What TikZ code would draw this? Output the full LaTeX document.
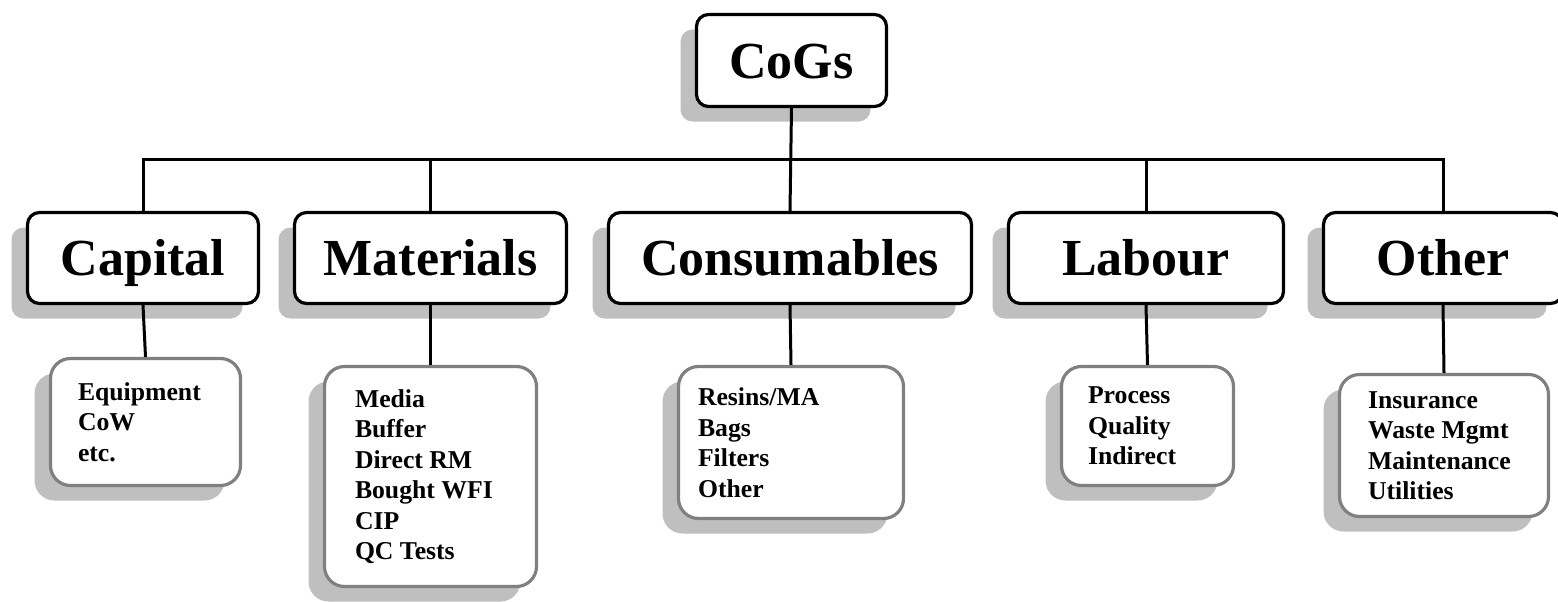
\documentclass[tikz,border=0pt]{standalone}
\usepackage{fontspec}
\setmainfont{Liberation Serif}
\usetikzlibrary{shadows}
\tikzset{
  shad/.style={drop shadow={shadow xshift=-16pt,shadow yshift=-15pt,fill=black!25,opacity=1}},
  topbox/.style={draw=black,line width=3.2pt,rounded corners=12pt,fill=white,shad,
    font=\fontsize{52}{60}\selectfont\bfseries,text height=35pt,text depth=0pt,inner sep=0pt},
  subbox/.style={draw=black!50,line width=3.2pt,rounded corners=20pt,fill=white,shad,
    font=\fontsize{25.7}{30.5}\selectfont\bfseries,align=flush left,inner xsep=0pt,inner ysep=0pt},
  conn/.style={line width=3pt,black}
}
\begin{document}
\begin{tikzpicture}[x=1pt,y=-1pt]
\useasboundingbox (0,0) rectangle (1558,602);
% top level
\node[topbox,minimum width=190pt,minimum height=92pt] (cogs) at (791.5,60.5) {CoGs};
% second level
\node[topbox,minimum width=231pt,minimum height=91pt] (cap) at (143,258) {Capital};
\node[topbox,minimum width=272pt,minimum height=91pt] (mat) at (430.5,258) {Materials};
\node[topbox,minimum width=363pt,minimum height=91pt] (con) at (790,258) {Consumables};
\node[topbox,minimum width=275pt,minimum height=91pt] (lab) at (1146,258) {Labour};
\node[topbox,minimum width=239pt,minimum height=91pt] (oth) at (1443,258) {Other};
% third level
\node[subbox,minimum width=190pt,minimum height=127pt,text width=135pt] (capsub) at (145.5,422)
  {Equipment\\CoW\\etc.};
\node[subbox,minimum width=212pt,minimum height=220pt,text width=151pt] (matsub) at (430.5,476.5)
  {Media\\Buffer\\Direct RM\\Bought WFI\\CIP\\QC Tests};
\node[subbox,minimum width=225pt,minimum height=152pt,text width=186pt] (consub) at (791,442.5)
  {Resins/MA\\Bags\\Filters\\Other};
\node[subbox,minimum width=172pt,minimum height=119pt,text width=119pt] (labsub) at (1147.5,426)
  {Process\\Quality\\Indirect};
\node[subbox,minimum width=209pt,minimum height=142pt,text width=152pt] (othsub) at (1444,445.5)
  {Insurance\\Waste Mgmt\\Maintenance\\Utilities};
% connectors
\coordinate (bus) at (790,159.5);
\draw[conn] (cap.north) -- (cap.north |- bus) -- (oth.north |- bus) -- (oth.north);
\draw[conn] (cogs.south) -- (con.north);
\draw[conn] (mat.north) -- (mat.north |- bus);
\draw[conn] (lab.north) -- (lab.north |- bus);
\draw[conn] (cap.south) -- (capsub.north);
\draw[conn] (mat.south) -- (matsub.north);
\draw[conn] (con.south) -- (consub.north);
\draw[conn] (lab.south) -- (labsub.north);
\draw[conn] (oth.south) -- (othsub.north);
\end{tikzpicture}
\end{document}
